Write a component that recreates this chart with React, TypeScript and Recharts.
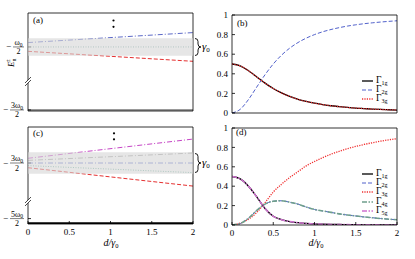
import { LineChart, Line, XAxis, YAxis, ReferenceArea, ReferenceLine, Legend } from 'recharts';

const FONT = '"Liberation Serif", "DejaVu Serif", serif';
const W = 415;
const H = 259;

// d / gamma0 grid for the rate panels
const dGrid = [0, 0.1, 0.2, 0.3, 0.4, 0.5, 0.6, 0.7, 0.8, 0.9, 1, 1.1, 1.2, 1.3, 1.4, 1.5, 1.6, 1.7, 1.8, 1.9, 2];

// panel (b) rates
const bGamma1 = [0.5, 0.481, 0.431, 0.368, 0.305, 0.25, 0.205, 0.169, 0.14, 0.118, 0.1, 0.086, 0.074, 0.065, 0.057, 0.05, 0.045, 0.04, 0.036, 0.033, 0.03];
const bGamma2 = [0, 0.038, 0.138, 0.265, 0.39, 0.5, 0.59, 0.662, 0.719, 0.764, 0.8, 0.829, 0.852, 0.871, 0.887, 0.9, 0.911, 0.92, 0.928, 0.935, 0.941];
const bGamma3 = [0.5, 0.481, 0.431, 0.368, 0.305, 0.25, 0.205, 0.169, 0.14, 0.118, 0.1, 0.086, 0.074, 0.065, 0.057, 0.05, 0.045, 0.04, 0.036, 0.033, 0.03];

// panel (d) rates
const dGamma1 = [0.5, 0.475, 0.4, 0.29, 0.17, 0.09, 0.055, 0.035, 0.024, 0.016, 0.011, 0.008, 0.006, 0.005, 0.004, 0.003, 0.002, 0.002, 0.001, 0.001, 0.001];
const dGamma2 = [0, 0.015, 0.07, 0.15, 0.215, 0.245, 0.25, 0.235, 0.215, 0.185, 0.16, 0.145, 0.13, 0.115, 0.103, 0.093, 0.083, 0.075, 0.067, 0.06, 0.054];
const dGamma3 = [0, 0.02, 0.06, 0.13, 0.23, 0.34, 0.42, 0.49, 0.55, 0.61, 0.655, 0.695, 0.73, 0.76, 0.787, 0.81, 0.83, 0.848, 0.864, 0.878, 0.89];
const dGamma4 = [0, 0.015, 0.07, 0.15, 0.215, 0.245, 0.25, 0.235, 0.215, 0.185, 0.16, 0.145, 0.13, 0.115, 0.103, 0.093, 0.083, 0.075, 0.067, 0.06, 0.054];
const dGamma5 = [0.5, 0.475, 0.4, 0.29, 0.17, 0.09, 0.055, 0.035, 0.024, 0.016, 0.011, 0.008, 0.006, 0.005, 0.004, 0.003, 0.002, 0.002, 0.001, 0.001, 0.001];

// energy panels: shifts (units of gamma0) at d = 0 and d = 2
const levelD = [0, 2];
const aUpper = [0.25, 0.82];
const aMid = [0, 0];
const aLower = [-0.25, -0.82];
const cTop = [0.27, 1.37];
const cUpper = [0.15, 0.57];
const cMid = [0, 0];
const cLower = [-0.15, -0.55];
const cBottom = [-0.27, -1.32];

const xTicks = [0, 0.5, 1, 1.5, 2];
const xTickLabels = ['0', '0.5', '1', '1.5', '2'];
const rateTicks = [0, 0.2, 0.4, 0.6, 0.8, 1];
const rateTickLabels = ['0', '0.2', '0.4', '0.6', '0.8', '1'];

const aTickValues = [0, -3.6];
const aTickNums = ['ω', '3ω'];
const cTickValues = [0, -3.18];
const cTickNums = ['3ω', '5ω'];

const axisStyle = { stroke: '#000', strokeWidth: 0.8 };
const tickText = { fontSize: 9, fill: '#000', fontFamily: FONT };

// axis box sizes; margins are worked out from them so the plot areas land where wanted
const LEFT_W = 20;
const RIGHT_W = 10;
const TOP_H = 10;
const BOTTOM_H = 15;

const fmtX = (v: number) => xTickLabels[xTicks.indexOf(v)] ?? '';
const fmtRate = (v: number) => rateTickLabels[rateTicks.indexOf(v)] ?? '';

function FracTick(props: any) {
  const { x, y, payload, values, nums } = props;
  const idx = values.findIndex((v: number) => Math.abs(v - payload.value) < 1e-6);
  const num = nums[idx] ?? '';
  const w = num.length > 1 ? 14 : 11;
  const cx = x - 4 - w / 2;
  return (
    <g fontFamily={FONT} fill="#000">
      <text x={cx - w / 2 - 2} y={y + 2.5} fontSize={9} textAnchor="end">−</text>
      <text x={cx} y={y - 1.6} fontSize={8} textAnchor="middle">
        {num}
        <tspan fontSize={5.5} dy={1.2}>0</tspan>
      </text>
      <line x1={cx - w / 2} x2={cx + w / 2} y1={y} y2={y} stroke="#000" strokeWidth={0.5} />
      <text x={cx} y={y + 7.5} fontSize={8} textAnchor="middle">2</text>
    </g>
  );
}

type LineCfg = { key: string; values: number[]; color: string; dash?: string; width: number };

type EnergyCfg = {
  top: number;
  bottom: number;
  domain: [number, number];
  level: number;
  levelColor: string;
  band: [number, number];
  tickValues: number[];
  tickNums: string[];
  showX: boolean;
  lines: LineCfg[];
};

const panelA: EnergyCfg = {
  top: 13,
  bottom: 111,
  domain: [-3.66, 1.94],
  level: -3.6,
  levelColor: '#777',
  band: [-0.5, 0.5],
  tickValues: aTickValues,
  tickNums: aTickNums,
  showX: false,
  lines: [
    { key: 'up', values: aUpper, color: '#4a58c0', dash: '5 2 1 2', width: 0.9 },
    { key: 'mid', values: aMid, color: '#6a9e98', dash: '1 1.5', width: 0.9 },
    { key: 'lo', values: aLower, color: '#e53030', dash: '4 2', width: 1 },
  ],
};

const panelC: EnergyCfg = {
  top: 127,
  bottom: 224,
  domain: [-3.49, 2.06],
  level: -3.44,
  levelColor: '#000',
  band: [-0.62, 0.62],
  tickValues: cTickValues,
  tickNums: cTickNums,
  showX: true,
  lines: [
    { key: 'top', values: cTop, color: '#c545c5', dash: '5 2 1 2', width: 1 },
    { key: 'up', values: cUpper, color: '#9a9a9a', dash: '5 2 1 2', width: 0.9 },
    { key: 'mid', values: cMid, color: '#5a6cc8', dash: '5 2 1 2', width: 0.9 },
    { key: 'lo', values: cLower, color: '#6fb0a0', dash: '1 1.5', width: 1 },
    { key: 'bot', values: cBottom, color: '#e53030', dash: '4 2', width: 1 },
  ],
};

function boxMargin(left: number, right: number, top: number, bottom: number) {
  return { left: left - LEFT_W, right: W - right - RIGHT_W, top: top - TOP_H, bottom: H - bottom - BOTTOM_H };
}

function EnergyPanel({ cfg }: { cfg: EnergyCfg }) {
  const rows = levelD.map((d, i) => {
    const r: Record<string, number> = { d };
    cfg.lines.forEach((l) => (r[l.key] = l.values[i]));
    return r;
  });
  return (
    <div style={{ position: 'absolute', left: 0, top: 0 }}>
      <LineChart width={W} height={H} data={rows} margin={boxMargin(28, 193, cfg.top, cfg.bottom)}>
        <XAxis dataKey="d" type="number" domain={[0, 2]} ticks={xTicks} height={BOTTOM_H} tickSize={-3} tickMargin={8}
          tick={cfg.showX ? tickText : false} tickFormatter={fmtX} axisLine={axisStyle} tickLine={axisStyle} allowDataOverflow />
        <XAxis xAxisId="top" orientation="top" dataKey="d" type="number" domain={[0, 2]} ticks={xTicks} height={TOP_H}
          tickSize={-3} tick={false} axisLine={axisStyle} tickLine={axisStyle} allowDataOverflow />
        <YAxis type="number" domain={cfg.domain} ticks={cfg.tickValues} width={LEFT_W} tickSize={-3} tickMargin={3}
          tick={(p: any) => <FracTick {...p} values={cfg.tickValues} nums={cfg.tickNums} />}
          axisLine={axisStyle} tickLine={axisStyle} allowDataOverflow />
        <YAxis yAxisId="r" orientation="right" type="number" domain={cfg.domain} width={RIGHT_W} tick={false}
          tickLine={false} axisLine={axisStyle} allowDataOverflow />
        <ReferenceLine y={cfg.level} stroke={cfg.levelColor} strokeWidth={1.6} />
        {cfg.lines.map((l) => (
          <Line key={l.key} dataKey={l.key} type="linear" stroke={l.color} strokeWidth={l.width}
            strokeDasharray={l.dash} dot={false} isAnimationActive={false} />
        ))}
        <ReferenceArea y1={cfg.band[0]} y2={cfg.band[1]} fill="#d6d6d6" fillOpacity={0.62} stroke="none" zIndex={900} />
      </LineChart>
    </div>
  );
}

type RateCfg = { top: number; bottom: number; legendTop: number; showX: boolean; lines: (LineCfg & { sub: string })[] };

const panelB: RateCfg = {
  top: 15,
  bottom: 113,
  legendTop: 76,
  showX: false,
  lines: [
    { key: 'g1', sub: '1g', values: bGamma1, color: '#000', width: 1.3 },
    { key: 'g2', sub: '2g', values: bGamma2, color: '#3d4fc4', dash: '4 2', width: 0.9 },
    { key: 'g3', sub: '3g', values: bGamma3, color: '#f03030', dash: '1.2 1.2', width: 1.3 },
  ],
};

const panelD: RateCfg = {
  top: 128,
  bottom: 225,
  legendTop: 169.5,
  showX: true,
  lines: [
    { key: 'g1', sub: '1g', values: dGamma1, color: '#000', width: 1.3 },
    { key: 'g2', sub: '2g', values: dGamma2, color: '#3d4fc4', dash: '4 2', width: 0.9 },
    { key: 'g3', sub: '3g', values: dGamma3, color: '#f03030', dash: '1.2 1.2', width: 1.3 },
    { key: 'g4', sub: '4g', values: dGamma4, color: '#6f9f8c', dash: '5 1.5 1.5 1.5', width: 1.6 },
    { key: 'g5', sub: '5g', values: dGamma5, color: '#d070d0', dash: '5 1.5 1.5 1.5', width: 1.5 },
  ],
};

function RateLegend({ items }: { items: RateCfg['lines'] }) {
  return (
    <div style={{ fontFamily: FONT, fontSize: 9.5, color: '#000' }}>
      {items.map((it) => (
        <div key={it.key} style={{ display: 'flex', alignItems: 'center', height: 9.2 }}>
          <svg width={12} height={6} style={{ display: 'block' }}>
            <line x1={0} x2={11} y1={3} y2={3} stroke={it.color} strokeWidth={it.width} strokeDasharray={it.dash} />
          </svg>
          <span style={{ marginLeft: 2, lineHeight: '9px' }}>
            Γ<span style={{ fontSize: 6, position: 'relative', top: 2 }}>{it.sub}</span>
          </span>
        </div>
      ))}
    </div>
  );
}

function RatePanel({ cfg }: { cfg: RateCfg }) {
  const rows = dGrid.map((d, i) => {
    const r: Record<string, number> = { d };
    cfg.lines.forEach((l) => (r[l.key] = l.values[i]));
    return r;
  });
  return (
    <div style={{ position: 'absolute', left: 0, top: 0 }}>
      <LineChart width={W} height={H} data={rows} margin={boxMargin(232, 397, cfg.top, cfg.bottom)}>
        <XAxis dataKey="d" type="number" domain={[0, 2]} ticks={xTicks} height={BOTTOM_H} tickSize={-3} tickMargin={8}
          tick={cfg.showX ? tickText : false} tickFormatter={fmtX} axisLine={axisStyle} tickLine={axisStyle} allowDataOverflow />
        <XAxis xAxisId="top" orientation="top" dataKey="d" type="number" domain={[0, 2]} ticks={xTicks} height={TOP_H}
          tickSize={-3} tick={false} axisLine={axisStyle} tickLine={axisStyle} allowDataOverflow />
        <YAxis type="number" domain={[0, 1]} ticks={rateTicks} width={LEFT_W} tickSize={-3} tickMargin={7}
          tick={tickText} tickFormatter={fmtRate} axisLine={axisStyle} tickLine={axisStyle} allowDataOverflow />
        <YAxis yAxisId="r" orientation="right" type="number" domain={[0, 1]} ticks={rateTicks} width={RIGHT_W} tickSize={-3}
          tick={false} axisLine={axisStyle} tickLine={axisStyle} allowDataOverflow />
        {cfg.lines.map((l) => (
          <Line key={l.key} dataKey={l.key} type="monotone" stroke={l.color} strokeWidth={l.width}
            strokeDasharray={l.dash} dot={false} isAnimationActive={false} />
        ))}
        <Legend layout="vertical" align="center" verticalAlign="middle"
          wrapperStyle={{ left: 362, top: cfg.legendTop, width: 40, height: 'auto' }}
          content={() => <RateLegend items={cfg.lines} />} />
      </LineChart>
    </div>
  );
}

function Brace({ x, y1, y2 }: { x: number; y1: number; y2: number }) {
  const m = (y1 + y2) / 2;
  return (
    <g>
      <path d={`M${x},${y1} Q${x + 3},${y1} ${x + 3},${y1 + 3} L${x + 3},${m - 3} Q${x + 3},${m} ${x + 6},${m} Q${x + 3},${m} ${x + 3},${m + 3} L${x + 3},${y2 - 3} Q${x + 3},${y2} ${x},${y2}`}
        fill="none" stroke="#000" strokeWidth={0.9} />
      <text x={x + 7} y={m + 3} fontSize={11} fontFamily={FONT} fontStyle="italic">
        γ<tspan fontSize={7} fontStyle="normal" dy={2}>0</tspan>
      </text>
    </g>
  );
}

function BreakMark({ x, y }: { x: number; y: number }) {
  return (
    <g stroke="#000" strokeWidth={0.7}>
      <polygon points={`${x - 3},${y + 3} ${x + 3},${y - 3} ${x + 3},${y} ${x - 3},${y + 6}`} fill="#fff" stroke="none" />
      <line x1={x - 3} y1={y + 3} x2={x + 3} y2={y - 3} />
      <line x1={x - 3} y1={y + 6} x2={x + 3} y2={y} />
    </g>
  );
}

function Overlay() {
  return (
    <svg width={W} height={H} style={{ position: 'absolute', left: 0, top: 0, pointerEvents: 'none' }} fontFamily={FONT}>
      <text x={33} y={23} fontSize={9}>(a)</text>
      <text x={237} y={26} fontSize={9}>(b)</text>
      <text x={33} y={136} fontSize={9}>(c)</text>
      <text x={236} y={135} fontSize={9}>(d)</text>
      <circle cx={113.5} cy={20.5} r={1.1} fill="#000" />
      <circle cx={113.5} cy={26.8} r={1.1} fill="#000" />
      <circle cx={114} cy={133.3} r={1.1} fill="#000" />
      <circle cx={114} cy={139.3} r={1.1} fill="#000" />
      <Brace x={195} y1={38.5} y2={55.5} />
      <Brace x={195} y1={153.5} y2={172.5} />
      <BreakMark x={28} y={80} />
      <BreakMark x={28} y={200} />
      <text transform="translate(14,67) rotate(-90)" fontSize={9} fontStyle="italic">
        E<tspan fontSize={6} fontStyle="normal" dy={2}>n</tspan>
        <tspan fontSize={6} fontStyle="normal" dx={-4} dy={-6}>±</tspan>
      </text>
      <text x={111} y={246} fontSize={10} textAnchor="middle" fontStyle="italic">
        d/γ<tspan fontSize={6.5} fontStyle="normal" dy={2}>0</tspan>
      </text>
      <text x={316} y={246} fontSize={10} textAnchor="middle" fontStyle="italic">
        d/γ<tspan fontSize={6.5} fontStyle="normal" dy={2}>0</tspan>
      </text>
    </svg>
  );
}

export default function App() {
  return (
    <div style={{ position: 'absolute', left: 0, top: 0, width: W, height: H, background: '#fff', overflow: 'hidden' }}>
      <EnergyPanel cfg={panelA} />
      <EnergyPanel cfg={panelC} />
      <RatePanel cfg={panelB} />
      <RatePanel cfg={panelD} />
      <Overlay />
    </div>
  );
}
